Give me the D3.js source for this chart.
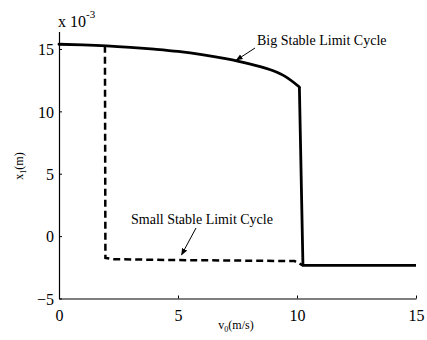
<!DOCTYPE html>
<html>
<head>
<meta charset="utf-8">
<script src="https://cdn.jsdelivr.net/npm/d3@7"></script>
<style>
  body { margin: 0; background: #fff; }
</style>
</head>
<body>
<svg id="chart" width="427" height="340"></svg>
<script>
// Amplitude x1 (in units of 1e-3 m) versus initial velocity v0 (m/s)
const xTicks = [0, 5, 10, 15];
const yTicks = [-5, 0, 5, 10, 15];

// Big stable limit cycle branch (solid): smooth part, then the jump down
const bigV  = [0, 1, 2, 3, 4, 5, 6, 7, 8, 9, 9.5, 10.1];
const bigX1 = [15.38, 15.33, 15.25, 15.13, 14.98, 14.8, 14.55, 14.22, 13.8, 13.25, 12.8, 11.95];
const jumpV  = [10.1, 10.25, 15];
const jumpX1 = [11.95, -2.35, -2.35];

// Small stable limit cycle branch (dashed)
const smallV  = [1.93, 1.95, 2.3, 5, 8, 9.9, 10.25];
const smallX1 = [15.25, -1.75, -1.85, -1.92, -1.97, -2.0, -2.35];

const FONT = "Liberation Serif";

const svg = d3.select("#chart");
const x = d3.scaleLinear().domain([0, 15]).range([59, 416]);
const y = d3.scaleLinear().domain([-5, 16.4]).range([298.5, 31.5]);

// axes: left and bottom only, ticks pointing inward
const xAxis = svg.append("g").attr("transform", `translate(0,${y(-5)})`)
  .call(d3.axisBottom(x).tickValues(xTicks).tickSizeInner(-3).tickSizeOuter(0).tickPadding(8));
const yAxis = svg.append("g").attr("transform", `translate(${x(0)},0)`)
  .call(d3.axisLeft(y).tickValues(yTicks).tickSizeInner(-3).tickSizeOuter(0).tickPadding(5));
[xAxis, yAxis].forEach(g => {
  g.attr("font-family", FONT).attr("font-size", 16);
  g.select(".domain").attr("stroke", "#000").attr("stroke-width", 1.2);
  g.selectAll(".tick line").attr("stroke", "#000");
  g.selectAll(".tick text").attr("fill", "#000").attr("font-family", FONT).attr("font-size", 16);
});
xAxis.selectAll(".tick text").attr("dy", "0.9em");
yAxis.selectAll(".tick text").attr("dy", "0.36em");

function label(sel) { return sel.attr("font-family", FONT).attr("fill", "#000"); }

// exponent label
const ex = label(svg.append("text")).attr("x", 58).attr("y", 27).attr("font-size", 16);
ex.append("tspan").text("x 10");
ex.append("tspan").attr("dy", -9).attr("font-size", 11).text("-3");

// axis titles
const xl = label(svg.append("text")).attr("x", 236).attr("y", 329).attr("text-anchor", "middle").attr("font-size", 12);
xl.append("tspan").text("v");
xl.append("tspan").attr("dy", 3).attr("font-size", 8).text("0");
xl.append("tspan").attr("dy", -3).text("(m/s)");

const yl = label(svg.append("text")).attr("transform", "translate(23,166) rotate(-90)").attr("text-anchor", "middle").attr("font-size", 12);
yl.append("tspan").text("x");
yl.append("tspan").attr("dy", 3).attr("font-size", 8).text("1");
yl.append("tspan").attr("dy", -3).text("(m)");

const smooth = d3.line().x(d => x(d[0])).y(d => y(d[1])).curve(d3.curveMonotoneX);
const straight = d3.line().x(d => x(d[0])).y(d => y(d[1]));

svg.append("path")
  .datum(d3.zip(smallV, smallX1))
  .attr("d", straight).attr("fill", "none").attr("stroke", "#000")
  .attr("stroke-width", 2.5).attr("stroke-dasharray", "7,4");

svg.append("path")
  .datum(d3.zip(bigV, bigX1))
  .attr("d", smooth).attr("fill", "none").attr("stroke", "#000")
  .attr("stroke-width", 2.8).attr("stroke-linecap", "round");
svg.append("path")
  .datum(d3.zip(jumpV, jumpX1))
  .attr("d", straight).attr("fill", "none").attr("stroke", "#000")
  .attr("stroke-width", 2.8).attr("stroke-linejoin", "round");

// annotations with arrows
svg.append("defs").append("marker")
  .attr("id", "arrow").attr("viewBox", "0 0 10 10").attr("refX", 9).attr("refY", 5)
  .attr("markerWidth", 7).attr("markerHeight", 7).attr("orient", "auto-start-reverse")
  .append("path").attr("d", "M0,1 L10,5 L0,9 Z").attr("fill", "#000");

label(svg.append("text")).attr("x", 257).attr("y", 45).attr("font-size", 14).text("Big Stable Limit Cycle");
svg.append("line")
  .attr("x1", 255).attr("y1", 48).attr("x2", x(7.45)).attr("y2", y(14.1))
  .attr("stroke", "#000").attr("stroke-width", 1).attr("marker-end", "url(#arrow)");

label(svg.append("text")).attr("x", 131).attr("y", 224).attr("font-size", 14).text("Small Stable Limit Cycle");
svg.append("line")
  .attr("x1", 196).attr("y1", 228).attr("x2", x(5.15)).attr("y2", y(-1.5))
  .attr("stroke", "#000").attr("stroke-width", 1).attr("marker-end", "url(#arrow)");
</script>
</body>
</html>
